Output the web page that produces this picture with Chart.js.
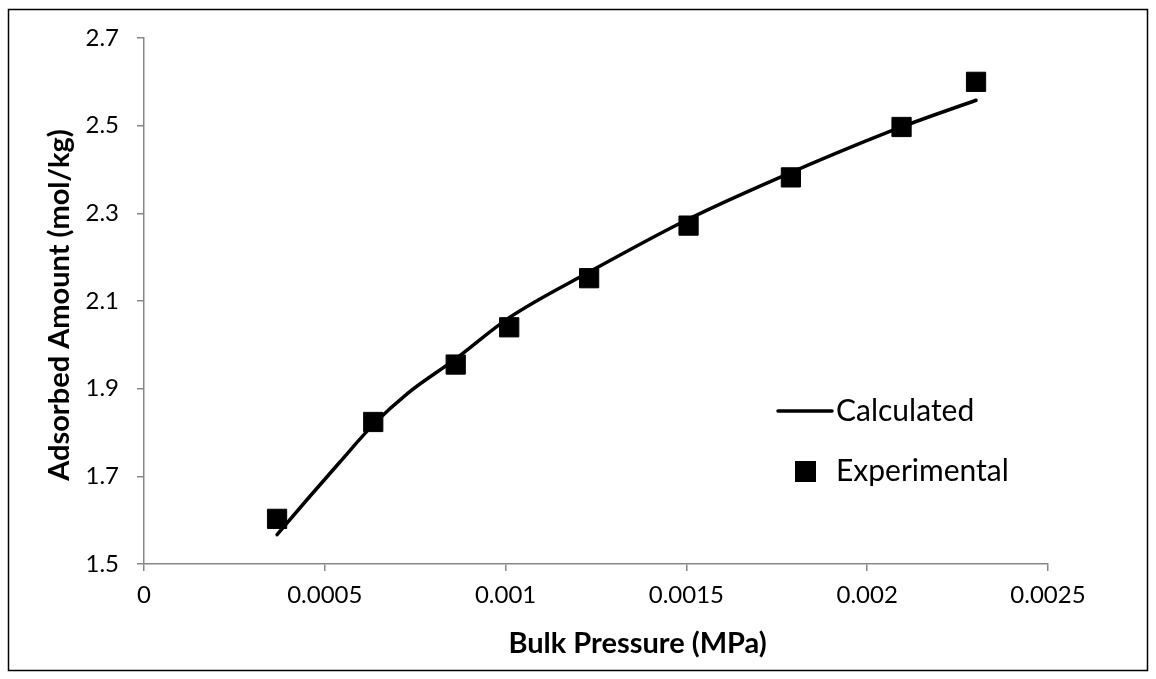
<!DOCTYPE html>
<html>
<head>
<meta charset="utf-8">
<script src="https://cdn.jsdelivr.net/npm/chart.js@4.4.1/dist/chart.umd.min.js"></script>
<style>
  html, body { margin: 0; padding: 0; background: #fff; }
  #wrap { width: 1156px; height: 679px; }
</style>
</head>
<body>
<div id="wrap"><canvas id="isotherm"></canvas></div>
<script>
// bulk pressure (MPa) and adsorbed amount (mol/kg)
const expPressure = [0.000368, 0.000634, 0.000862, 0.00101, 0.001231, 0.001506, 0.001789, 0.002095, 0.002301];
const expAmount = [1.603, 1.824, 1.955, 2.040, 2.152, 2.272, 2.382, 2.497, 2.600];

const calcPressure = [0.000368, 0.00045, 0.00054, 0.000634, 0.00073, 0.000862, 0.00101, 0.001231, 0.001506, 0.001789, 0.002095, 0.002301];
const calcAmount = [1.567, 1.646, 1.731, 1.818, 1.890, 1.968, 2.062, 2.166, 2.287, 2.393, 2.497, 2.558];

const xTickLabels = ['0', '0.0005', '0.001', '0.0015', '0.002', '0.0025'];
const yTickLabels = ['1.5', '1.7', '1.9', '2.1', '2.3', '2.5', '2.7'];

const xTitle = 'Bulk Pressure (MPa)';
const yTitle = 'Adsorbed Amount (mol/kg)';

const axisGray = '#878787';
const FONT = 'Lato, "Open Sans", sans-serif';

// white page with the thin black frame round the whole chart
const frame = {
  id: 'frame',
  beforeDraw(chart) {
    const c = chart.ctx;
    c.save();
    c.fillStyle = '#fff';
    c.fillRect(0, 0, chart.width, chart.height);
    c.strokeStyle = '#000';
    c.lineWidth = 1.5;
    c.strokeRect(8.5, 9.5, chart.width - 17, chart.height - 18);
    c.restore();
  }
};

// axis titles, placed relative to the plot area
const axisTitles = {
  id: 'axisTitles',
  afterDraw(chart) {
    const c = chart.ctx, a = chart.chartArea;
    c.save();
    c.fillStyle = '#000';
    c.font = 'bold 29px ' + FONT;
    c.textAlign = 'center';
    c.textBaseline = 'middle';
    c.fillText(xTitle, a.left + (a.right - a.left) * 0.546, a.bottom + 80);
    c.translate(a.left - 84, (a.top + a.bottom) / 2 + 4);
    c.rotate(-Math.PI / 2);
    c.fillText(yTitle, 0, 0);
    c.restore();
  }
};

// legend inside the plot: line sample for the fit, square for the measurements
const insideLegend = {
  id: 'insideLegend',
  afterDraw(chart) {
    const c = chart.ctx, a = chart.chartArea;
    const x0 = a.left + 634;
    const y0 = a.top + 373;
    c.save();
    c.font = '30px ' + FONT;
    c.textBaseline = 'middle';
    c.fillStyle = '#000';
    // Calculated
    c.strokeStyle = '#000';
    c.lineWidth = 3.5;
    c.lineCap = 'round';
    c.beginPath();
    c.moveTo(x0, y0);
    c.lineTo(x0 + 54, y0);
    c.stroke();
    c.fillText(chart.data.datasets[0].label, x0 + 58, y0);
    // Experimental
    c.fillRect(x0 + 17, y0 + 50, 21, 21);
    c.fillText(chart.data.datasets[1].label, x0 + 58, y0 + 60);
    c.restore();
  }
};

const toPoints = (xs, ys) => xs.map((x, i) => ({ x: x, y: ys[i] }));

new Chart(document.getElementById('isotherm'), {
  type: 'scatter',
  data: {
    datasets: [
      {
        label: 'Calculated',
        data: toPoints(calcPressure, calcAmount),
        showLine: true,
        borderColor: '#000',
        borderWidth: 3.5,
        borderCapStyle: 'round',
        cubicInterpolationMode: 'monotone',
        pointRadius: 0,
        order: 2
      },
      {
        label: 'Experimental',
        data: toPoints(expPressure, expAmount),
        showLine: false,
        pointStyle: 'rect',
        pointRadius: 13.6,
        backgroundColor: '#000',
        borderColor: '#000',
        borderWidth: 1,
        order: 1
      }
    ]
  },
  options: {
    responsive: true,
    maintainAspectRatio: false,
    animation: false,
    layout: { padding: { top: 38, right: 108, left: 0, bottom: 0 } },
    plugins: {
      legend: { display: false },
      tooltip: { enabled: false }
    },
    scales: {
      x: {
        type: 'linear',
        min: 0,
        max: 0.0025,
        ticks: {
          stepSize: 0.0005,
          color: '#000',
          padding: 10,
          font: { family: FONT, size: 24 },
          callback: (v, i) => xTickLabels[i]
        },
        grid: { drawOnChartArea: false, drawTicks: true, tickLength: 7, color: axisGray, lineWidth: 1.5 },
        border: { color: axisGray, width: 1.5 },
        afterFit: s => { s.height = 115; }
      },
      y: {
        type: 'linear',
        min: 1.5,
        max: 2.7,
        ticks: {
          stepSize: 0.2,
          color: '#000',
          padding: 18,
          font: { family: FONT, size: 24 },
          callback: (v, i) => yTickLabels[i]
        },
        grid: { drawOnChartArea: false, drawTicks: true, tickLength: 7, color: axisGray, lineWidth: 1.5 },
        border: { color: axisGray, width: 1.5 },
        afterFit: s => { s.width = 144; }
      }
    }
  },
  plugins: [frame, axisTitles, insideLegend]
});
</script>
</body>
</html>
